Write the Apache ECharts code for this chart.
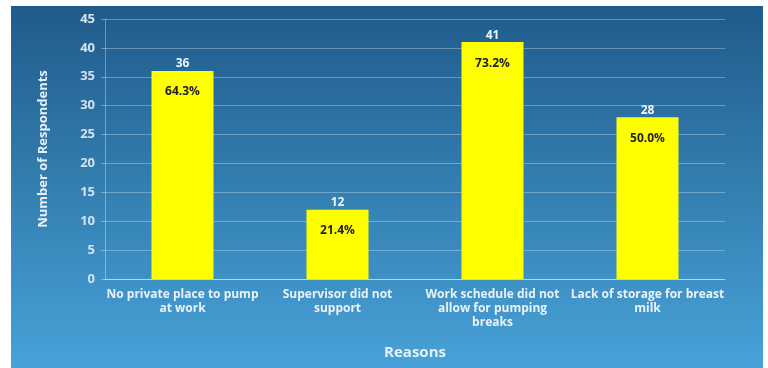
<!DOCTYPE html>
<html>
<head>
<meta charset="utf-8">
<script src="https://cdn.jsdelivr.net/npm/echarts@6/dist/echarts.min.js"></script>
<style>
  html, body { margin: 0; padding: 0; background: #ffffff; }
  #chart { position: absolute; left: 11px; top: 6px; width: 752px; height: 362px; }
</style>
</head>
<body>
<div id="chart"></div>
<script>
// data
const reasons = [
  "No private place to pump\nat work",
  "Supervisor did not\nsupport",
  "Work schedule did not\nallow for pumping\nbreaks",
  "Lack of storage for breast\nmilk"
];
const respondents = [36, 12, 41, 28];
const percents = ["64.3%", "21.4%", "73.2%", "50.0%"];

const chart = echarts.init(document.getElementById("chart"));
const fontFam = "'Open Sans', sans-serif";

let option = {
  backgroundColor: new echarts.graphic.LinearGradient(0, 0, 0, 1, [
    { offset: 0, color: "#1f5b8a" },
    { offset: 1, color: "#48a2d8" }
  ]),
  grid: { left: 94, right: 38, top: 13, bottom: 89 },
  xAxis: {
    type: "category",
    data: reasons,
    name: "Reasons",
    nameLocation: "middle",
    nameGap: 66,
    nameTextStyle: { color: "#e6f0f8", fontSize: 15, fontWeight: "bold", fontFamily: fontFam },
    axisLine: { lineStyle: { color: "rgba(255,255,255,0.45)" } },
    axisTick: { show: false },
    axisLabel: { color: "#eaf2f9", fontSize: 12, fontWeight: "bold", fontFamily: fontFam, lineHeight: 14, margin: 9, interval: 0 }
  },
  yAxis: {
    type: "value",
    min: 0,
    max: 45,
    interval: 5,
    name: "Number of Respondents",
    nameLocation: "middle",
    nameGap: 55,
    nameTextStyle: { color: "#e6f0f8", fontSize: 13, fontWeight: "bold", fontFamily: fontFam },
    axisLine: { show: true, lineStyle: { color: "rgba(255,255,255,0.35)" } },
    axisTick: { show: true, length: 4, lineStyle: { color: "rgba(255,255,255,0.35)" } },
    splitLine: { lineStyle: { color: "rgba(255,255,255,0.3)" } },
    axisLabel: { color: "#d3e3f0", fontSize: 13, fontWeight: "bold", fontFamily: fontFam, margin: 10 }
  },
  series: [
    {
      type: "bar",
      data: respondents,
      barWidth: "40%",
      itemStyle: { color: "#ffff00" },
      label: {
        show: true,
        position: "top",
        distance: 1,
        color: "#eef5fb",
        fontSize: 12,
        fontWeight: "bold",
        fontFamily: fontFam
      }
    },
    {
      type: "bar",
      data: respondents,
      barWidth: "40%",
      barGap: "-100%",
      silent: true,
      itemStyle: { color: "rgba(0,0,0,0)" },
      label: {
        show: true,
        position: "insideTop",
        distance: 15,
        color: "#222222",
        fontSize: 12,
        fontWeight: "bold",
        fontFamily: fontFam,
        formatter: function (p) { return percents[p.dataIndex]; }
      }
    }
  ]
};

chart.setOption(option);
</script>
</body>
</html>
